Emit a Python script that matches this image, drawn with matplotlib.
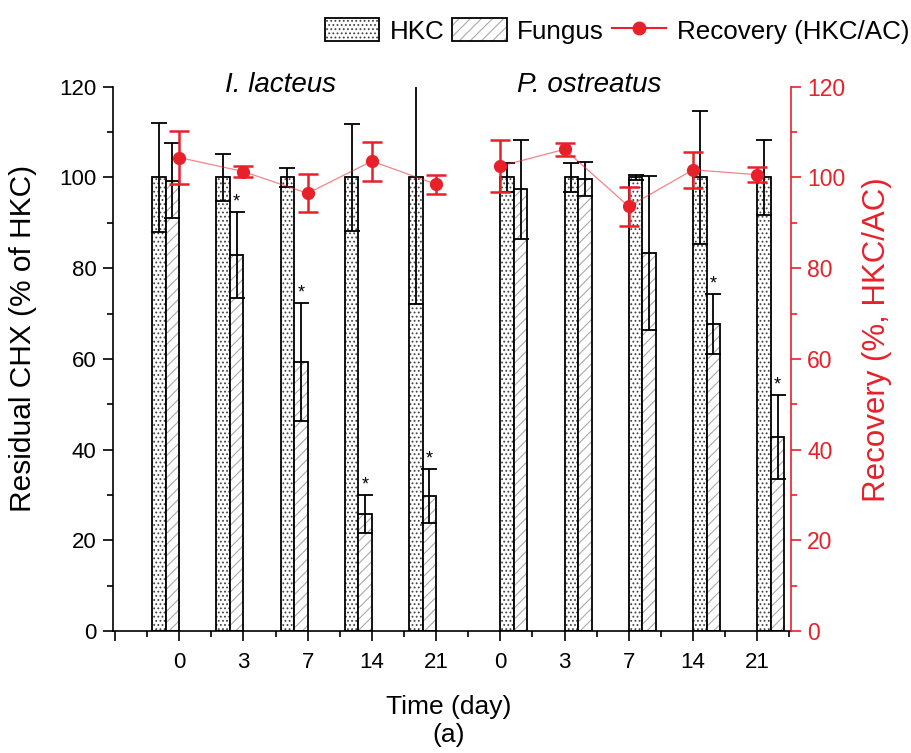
import matplotlib
matplotlib.use('Agg')
import matplotlib.pyplot as plt
from matplotlib.patches import Patch
from matplotlib.lines import Line2D
from matplotlib.ticker import MultipleLocator, FixedLocator
import numpy as np

plt.rcParams['font.family'] = ['Liberation Sans', 'DejaVu Sans']
plt.rcParams['hatch.linewidth'] = 0.8

# data
days = ['0', '3', '7', '14', '21']
species = ['I. lacteus', 'P. ostreatus']

hkc_lac = [100, 100, 100, 100, 100]
hkc_lac_err = [12.0, 5.2, 2.1, 11.8, 28.0]
fun_lac = [99.3, 82.9, 59.3, 25.7, 29.8]
fun_lac_err = [8.2, 9.5, 13.0, 4.2, 6.0]
rec_lac = [104.4, 101.3, 96.5, 103.6, 98.5]
rec_lac_err = [5.9, 1.3, 4.2, 4.3, 2.1]
sig_lac = [False, True, True, True, True]

hkc_ost = [100, 100, 100, 100, 100]
hkc_ost_err = [3.2, 3.2, 0.5, 14.7, 8.3]
fun_ost = [97.4, 99.6, 83.3, 67.7, 42.8]
fun_ost_err = [10.9, 3.7, 17.0, 6.6, 9.2]
rec_ost = [102.5, 106.2, 93.6, 101.7, 100.6]
rec_ost_err = [5.8, 1.5, 4.3, 4.0, 1.6]
sig_ost = [False, False, False, True, True]

RED = '#e8202a'
bw = 0.21

fig = plt.figure(figsize=(9.12, 7.53), dpi=100)
ax = fig.add_axes([0.1239, 0.1620, 0.7431, 0.7228])
ax2 = ax.twinx()


def draw_group(x0, hkc, hkc_err, fun, fun_err, rec, rec_err, sig, left):
    x = np.arange(len(hkc)) + x0
    if left:  # Origin put the first species' pair left of the tick
        xh, xf = x - 1.5 * bw, x - 0.5 * bw
    else:
        xh, xf = x + 0.5 * bw, x + 1.5 * bw
    # hatch layer then outline layer
    ax.bar(xh, hkc, bw, color='white', edgecolor='#444444', hatch='....', lw=0)
    ax.bar(xh, hkc, bw, fill=False, edgecolor='black', lw=1.3)
    ax.bar(xf, fun, bw, color='white', edgecolor='#aaaaaa', hatch='///', lw=0)
    ax.bar(xf, fun, bw, fill=False, edgecolor='black', lw=1.3)
    ax.errorbar(xh, hkc, yerr=hkc_err, fmt='none', ecolor='black', elinewidth=1.3, capsize=6, capthick=1.3)
    ax.errorbar(xf, fun, yerr=fun_err, fmt='none', ecolor='black', elinewidth=1.3, capsize=6, capthick=1.3)
    for i in range(len(fun)):
        if sig[i]:
            ax.text(xf[i], fun[i] + fun_err[i] + 2.2, '*', ha='center', va='center', fontsize=13)
    ax2.plot(x, rec, '-', color=RED, lw=0.9, alpha=0.55, zorder=3)
    ax2.errorbar(x, rec, yerr=rec_err, fmt='o', color=RED, ms=8.5, elinewidth=1.8,
                 capsize=7, capthick=1.8, zorder=4)


draw_group(0, hkc_lac, hkc_lac_err, fun_lac, fun_lac_err, rec_lac, rec_lac_err, sig_lac, True)
draw_group(5, hkc_ost, hkc_ost_err, fun_ost, fun_ost_err, rec_ost, rec_ost_err, sig_ost, False)

ax.set_xlim(-1.03, 9.52)
ax.set_ylim(0, 120)
ax2.set_ylim(0, 120)

ax.xaxis.set_major_locator(FixedLocator(np.arange(-1, 10)))
ax.set_xticklabels([''] + days + days)
ax.xaxis.set_minor_locator(FixedLocator(np.arange(-0.5, 10, 1.0)))
ax.yaxis.set_major_locator(MultipleLocator(20))
ax.yaxis.set_minor_locator(MultipleLocator(10))
ax2.yaxis.set_major_locator(MultipleLocator(20))
ax2.yaxis.set_minor_locator(MultipleLocator(10))

ax.tick_params(which='major', direction='out', length=7, width=1.2, labelsize=16, pad=5)
ax.tick_params(axis='x', which='major', pad=8)
ax.tick_params(which='minor', direction='out', length=4, width=1.2)
ax2.tick_params(which='major', direction='out', length=7, width=1.2, labelsize=16.5,
                colors=RED, pad=5)
ax2.tick_params(which='minor', direction='out', length=4, width=1.2, colors=RED)

for a in (ax, ax2):
    a.spines['top'].set_visible(False)
    a.spines['left'].set_linewidth(1.2)
    a.spines['bottom'].set_linewidth(1.2)
    a.spines['right'].set_linewidth(1.2)
ax2.spines['right'].set_color(RED)
ax.spines['right'].set_visible(False)
ax2.spines['left'].set_visible(False)
ax2.spines['bottom'].set_visible(False)

ax.set_ylabel('Residual CHX (% of HKC)', fontsize=21.5)
ax.yaxis.set_label_coords(-0.112, 0.538)
ax2.set_ylabel('Recovery (%, HKC/AC)', fontsize=22.5, color=RED, rotation=90)
ax2.yaxis.set_label_coords(1.105, 0.535)

fig.text(0.492, 1 - 707 / 753, 'Time (day)', ha='center', va='center', fontsize=19)
fig.text(0.492, 1 - 735 / 753, '(a)', ha='center', va='center', fontsize=19)

ax.text(1.57, 120.4, species[0], ha='center', va='center', fontsize=20, style='italic', clip_on=False)
ax.text(6.39, 120.4, species[1], ha='center', va='center', fontsize=20, style='italic', clip_on=False)

handles = [
    (Patch(facecolor='white', edgecolor='#444444', hatch='....', lw=0),
     Patch(fill=False, edgecolor='black', lw=1.3)),
    (Patch(facecolor='white', edgecolor='#aaaaaa', hatch='///', lw=0),
     Patch(fill=False, edgecolor='black', lw=1.3)),
    Line2D([], [], color=RED, marker='o', ms=9, lw=1.5),
]
fig.legend(handles, ['HKC', 'Fungus', 'Recovery (HKC/AC)'], ncol=3, frameon=False,
           loc='center right', bbox_to_anchor=(0.997, 1 - 31 / 753), fontsize=18.7,
           handlelength=2.1, handleheight=1.0, handletextpad=0.4, columnspacing=0.3,
           borderpad=0, borderaxespad=0)

fig.savefig('out.png', dpi=100)
